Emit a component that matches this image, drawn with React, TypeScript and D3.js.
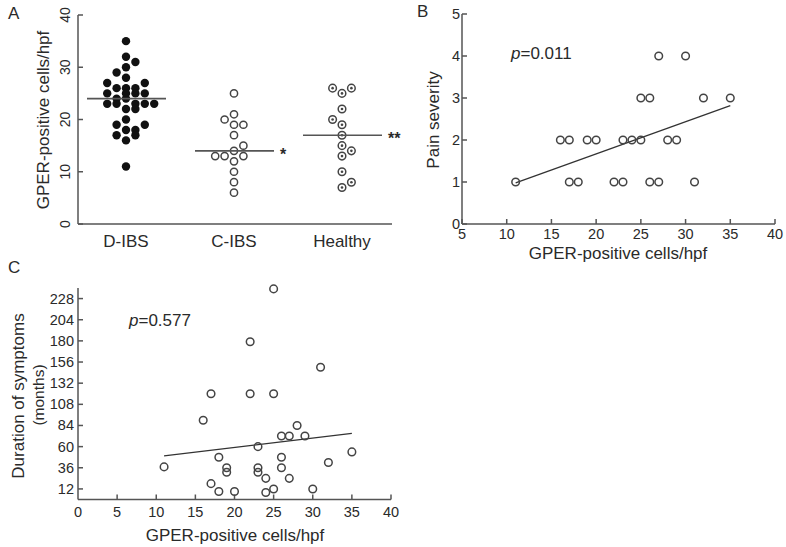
import React from "react";
import * as d3 from "d3";

// ---------- Panel A data ----------
const groups = ["D-IBS", "C-IBS", "Healthy"];
const dibsValues = [35, 32, 31, 30, 29, 28, 27, 27, 26, 26, 26, 25, 25, 25, 25, 24, 24, 23, 23, 23, 23, 23, 22, 22, 20, 19, 19, 18, 18, 17, 17, 16, 11];
const dibsSlots = [0, 0, 1, 0, -1, 0, -2, 2, -1, 0, 1, -2, 0, 1, 2, -1, 0, -2, -1, 1, 2, 3, 0, 1, 0, -1, 2, 0, 1, -1, 1, 0, 0];
const cibsValues = [25, 21, 20, 19, 19, 17, 15, 14, 13, 13, 13, 12, 10, 8, 6];
const cibsSlots = [0, 0, -1, 0, 1, 0, 1, 0, -2, -1, 1, 0, 0, 0, 0];
const healthyValues = [26, 26, 25, 22, 20, 19, 17, 15, 14, 13, 10, 8, 7];
const healthySlots = [-1, 1, 0, 0, -1, 0, 0, 0, 1, 0, 0, 1, 0];
const groupMeans = [24, 14, 17];
const groupSig = ["", "*", "**"];
const aTicks = [0, 10, 20, 30, 40];

// ---------- Panel B data ----------
const bX = [11, 16, 17, 17, 18, 19, 20, 22, 23, 23, 24, 25, 25, 26, 26, 27, 27, 28, 29, 30, 31, 32, 35];
const bY = [1, 2, 2, 1, 1, 2, 2, 1, 1, 2, 2, 2, 3, 3, 1, 1, 4, 2, 2, 4, 1, 3, 3];
const bFitX = [11, 35];
const bFitY = [0.98, 2.82];
const bXTicks = [5, 10, 15, 20, 25, 30, 35, 40];
const bYTicks = [0, 1, 2, 3, 4, 5];

// ---------- Panel C data ----------
const cX = [25, 22, 31, 17, 22, 25, 16, 28, 26, 27, 29, 23, 18, 26, 35, 32, 19, 19, 23, 23, 26, 24, 27, 17, 18, 20, 24, 25, 30, 11];
const cY = [239, 179, 150, 120, 120, 120, 90, 84, 72, 72, 72, 60, 48, 48, 54, 42, 36, 31, 36, 31, 36, 24, 24, 18, 9, 9, 8, 12, 12, 37];
const cFitX = [11, 35];
const cFitY = [49.5, 75];
const cXTicks = [0, 5, 10, 15, 20, 25, 30, 35, 40];
const cYTicks = [12, 36, 60, 84, 108, 132, 156, 180, 204, 228];

const FONT = "'Liberation Sans', Arial, sans-serif";
const AX = "#555";
const TXT = "#2a2a2a";
const DOT = "#444";

export default function App() {
  const aY = d3.scaleLinear().domain([0, 40]).range([224, 15]);
  const aX = d3.scalePoint().domain(groups).range([126, 342]);
  const slotW = 9.4;
  const groupData = [
    { vals: dibsValues, slots: dibsSlots, kind: "filled" },
    { vals: cibsValues, slots: cibsSlots, kind: "open" },
    { vals: healthyValues, slots: healthySlots, kind: "target" },
  ];

  const bxs = d3.scaleLinear().domain([5, 40]).range([462, 775]);
  const bys = d3.scaleLinear().domain([0, 5]).range([224, 14]);
  const cxs = d3.scaleLinear().domain([0, 40]).range([78, 391]);
  const cys = d3.scaleLinear().domain([0, 240]).range([499.5, 288]);

  const lineB = d3.line<number>().x((d, i) => bxs(bFitX[i])).y((d) => bys(d));
  const lineC = d3.line<number>().x((d, i) => cxs(cFitX[i])).y((d) => cys(d));

  return (
    <svg width={786} height={547} style={{ position: "absolute", left: 0, top: 0, background: "#fff" }} fontFamily={FONT}>
      <rect width={786} height={547} fill="#fff" />
      {/* ---------------- Panel A ---------------- */}
      <text x={8} y={19} fontSize={17} fill={TXT}>A</text>
      <line x1={78} x2={78} y1={aY(40)} y2={aY(0)} stroke={AX} strokeWidth={1.5} />
      <line x1={78} x2={392} y1={aY(0)} y2={aY(0)} stroke={AX} strokeWidth={1.5} />
      {aTicks.map((t) => (
        <g key={t}>
          <line x1={78} x2={83} y1={aY(t)} y2={aY(t)} stroke={AX} strokeWidth={1.5} />
          <text transform={`translate(${69.5},${aY(t)}) rotate(-90)`} textAnchor="middle" fontSize={14} fill={TXT}>{t}</text>
        </g>
      ))}
      <text transform={`translate(${49},${120}) rotate(-90)`} textAnchor="middle" fontSize={17} fill={TXT}>GPER-positive cells/hpf</text>
      {groups.map((g) => (
        <text key={g} x={aX(g)} y={247} textAnchor="middle" fontSize={17} fill={TXT}>{g}</text>
      ))}
      {groupData.map((gd, gi) => {
        const cx0 = aX(groups[gi]) as number;
        return (
          <g key={gi}>
            {gd.vals.map((v, i) => {
              const x = cx0 + gd.slots[i] * slotW;
              const y = aY(v);
              if (gd.kind === "filled") return <circle key={i} cx={x} cy={y} r={4.2} fill="#111" />;
              if (gd.kind === "open")
                return <circle key={i} cx={x} cy={y} r={3.6} fill="#fff" stroke={DOT} strokeWidth={1.5} />;
              return (
                <g key={i}>
                  <circle cx={x} cy={y} r={3.8} fill="#fff" stroke={DOT} strokeWidth={1.5} />
                  <circle cx={x} cy={y} r={1.3} fill={DOT} />
                </g>
              );
            })}
            <line x1={cx0 - 39} x2={cx0 + 40} y1={aY(groupMeans[gi])} y2={aY(groupMeans[gi])} stroke={AX} strokeWidth={1.6} />
            {groupSig[gi] && (
              <text x={cx0 + 46} y={aY(groupMeans[gi]) + 9} fontSize={16} fill={TXT} fontWeight="bold">{groupSig[gi]}</text>
            )}
          </g>
        );
      })}

      {/* ---------------- Panel B ---------------- */}
      <text x={417} y={17} fontSize={17} fill={TXT}>B</text>
      <line x1={bxs(5)} x2={bxs(5)} y1={bys(5)} y2={bys(0)} stroke={AX} strokeWidth={1.5} />
      <line x1={bxs(5)} x2={bxs(40)} y1={bys(0)} y2={bys(0)} stroke={AX} strokeWidth={1.5} />
      {bYTicks.map((t) => (
        <g key={t}>
          <line x1={bxs(5)} x2={bxs(5) + 5} y1={bys(t)} y2={bys(t)} stroke={AX} strokeWidth={1.5} />
          <text x={bxs(5) - 2} y={bys(t) + 5} textAnchor="end" fontSize={14.5} fill={TXT}>{t}</text>
        </g>
      ))}
      {bXTicks.map((t) => (
        <g key={t}>
          <line x1={bxs(t)} x2={bxs(t)} y1={bys(0)} y2={bys(0) - 5} stroke={AX} strokeWidth={1.5} />
          <text x={bxs(t)} y={bys(0) + 15} textAnchor="middle" fontSize={14.5} fill={TXT}>{t}</text>
        </g>
      ))}
      <text transform={`translate(${439},${120}) rotate(-90)`} textAnchor="middle" fontSize={17} fill={TXT}>Pain severity</text>
      <text x={618} y={259} textAnchor="middle" fontSize={17} fill={TXT}>GPER-positive cells/hpf</text>
      <text x={511} y={59} fontSize={17} fill={TXT}>
        <tspan fontStyle="italic">p</tspan>=0.011
      </text>
      <path d={lineB(bFitY) || ""} fill="none" stroke="#333" strokeWidth={1.3} />
      {bX.map((x, i) => (
        <circle key={i} cx={bxs(x)} cy={bys(bY[i])} r={3.8} fill="none" stroke={DOT} strokeWidth={1.5} />
      ))}

      {/* ---------------- Panel C ---------------- */}
      <text x={8} y={273} fontSize={17} fill={TXT}>C</text>
      <line x1={cxs(0)} x2={cxs(0)} y1={cys(240)} y2={cys(0)} stroke={AX} strokeWidth={1.5} />
      <line x1={cxs(0)} x2={cxs(40)} y1={cys(0)} y2={cys(0)} stroke={AX} strokeWidth={1.5} />
      {cYTicks.map((t) => (
        <g key={t}>
          <line x1={cxs(0)} x2={cxs(0) + 5} y1={cys(t)} y2={cys(t)} stroke={AX} strokeWidth={1.5} />
          <text x={cxs(0) - 4} y={cys(t) + 5} textAnchor="end" fontSize={14.5} fill={TXT}>{t}</text>
        </g>
      ))}
      {cXTicks.map((t) => (
        <g key={t}>
          {t > 0 && <line x1={cxs(t)} x2={cxs(t)} y1={cys(0)} y2={cys(0) - 5} stroke={AX} strokeWidth={1.5} />}
          <text x={cxs(t)} y={cys(0) + 17} textAnchor="middle" fontSize={14.5} fill={TXT}>{t}</text>
        </g>
      ))}
      <text transform={`translate(${24},${396}) rotate(-90)`} textAnchor="middle" fontSize={17} fill={TXT}>Duration of symptoms</text>
      <text transform={`translate(${44},${395}) rotate(-90)`} textAnchor="middle" fontSize={15.5} fill={TXT}>(months)</text>
      <text x={235} y={541} textAnchor="middle" fontSize={17} fill={TXT}>GPER-positive cells/hpf</text>
      <text x={129} y={326} fontSize={17} fill={TXT}>
        <tspan fontStyle="italic">p</tspan>=0.577
      </text>
      <path d={lineC(cFitY) || ""} fill="none" stroke="#333" strokeWidth={1.3} />
      {cX.map((x, i) => (
        <circle key={i} cx={cxs(x)} cy={cys(cY[i])} r={3.8} fill="none" stroke={DOT} strokeWidth={1.5} />
      ))}
    </svg>
  );
}
